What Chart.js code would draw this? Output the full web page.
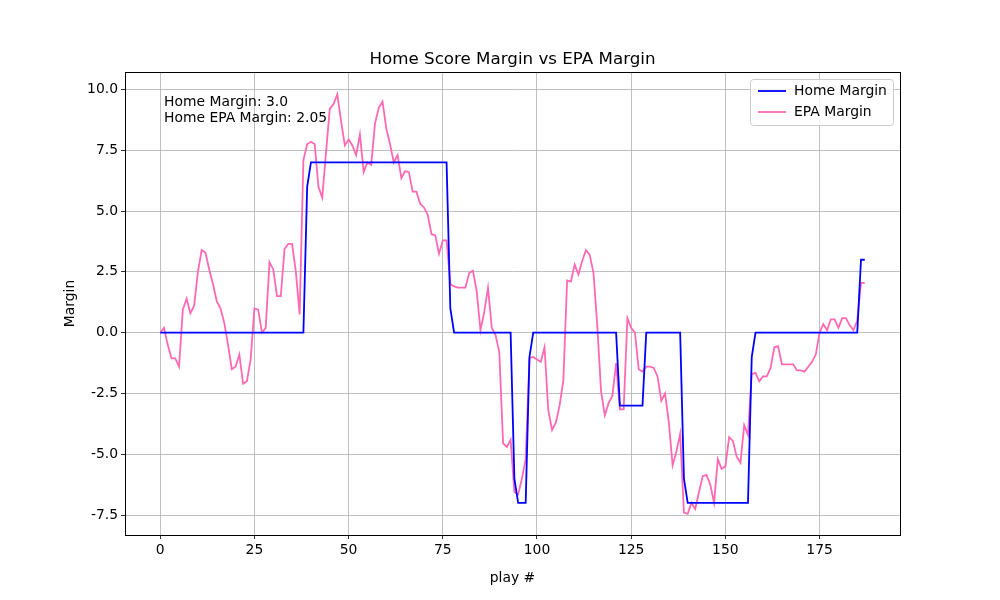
<!DOCTYPE html>
<html><head><meta charset="utf-8">
<script src="https://cdn.jsdelivr.net/npm/chart.js@4"></script>
<style>html,body{margin:0;padding:0;background:#fff}#w{width:1000px;height:600px}</style>
</head><body><div id="w"><canvas id="c" width="1000" height="600"></canvas></div>
<script>
const homeMargin = [
 0,0,0,0,0,0,0,0,0,0, 0,0,0,0,0,0,0,0,0,0, 0,0,0,0,0,0,0,0,0,0, 0,0,0,0,0,0,0,0,0,6,
 7,7,7,7,7,7,7,7,7,7, 7,7,7,7,7,7,7,7,7,7, 7,7,7,7,7,7,7,7,7,7, 7,7,7,7,7,7,7,1,0,0,
 0,0,0,0,0,0,0,0,0,0, 0,0,0,0,-6,-7,-7,-7,-1,0, 0,0,0,0,0,0,0,0,0,0, 0,0,0,0,0,0,0,0,0,0,
 0,0,-3,-3,-3,-3,-3,-3,-3,0, 0,0,0,0,0,0,0,0,0,-6, -7,-7,-7,-7,-7,-7,-7,-7,-7,-7,
 -7,-7,-7,-7,-7,-7,-7,-1,0,0, 0,0,0,0,0,0,0,0,0,0, 0,0,0,0,0,0,0,0,0,0, 0,0,0,0,0,0,3,3];
const epaMargin = [
 0,0.2,-0.5,-1.06,-1.06,-1.4,0.95,1.4,0.8,1.1, 2.5,3.4,3.3,2.6,2.0,1.3,1.0,0.4,-0.5,-1.5,
 -1.4,-0.9,-2.1,-2.0,-1.1,1.0,0.95,0,0.2,2.9, 2.6,1.5,1.5,3.45,3.65,3.65,2.5,0.75,7.1,7.75,
 7.85,7.75,6.0,5.55,7.4,9.2,9.4,9.8,8.7,7.7, 7.95,7.7,7.3,8.15,6.6,7.0,6.9,8.6,9.25,9.5,
 8.4,7.75,7.0,7.3,6.35,6.65,6.6,5.8,5.8,5.3, 5.15,4.85,4.05,4.0,3.25,3.8,3.8,2.0,1.9,1.85,
 1.85,1.85,2.45,2.55,1.7,0.1,0.85,1.85,0.2,-0.1, -0.8,-4.55,-4.7,-4.4,-6.55,-6.65,-6.0,-5.2,-1.05,-1.0,
 -1.1,-1.2,-0.6,-3.2,-4.0,-3.7,-3.0,-1.95,2.15,2.1, 2.8,2.4,2.95,3.4,3.2,2.45,0.3,-2.4,-3.4,-2.9,
 -2.6,-1.25,-3.15,-3.15,0.6,0.2,0.0,-1.5,-1.6,-1.4, -1.4,-1.45,-1.8,-2.8,-2.5,-3.7,-5.45,-4.9,-4.15,-7.4,
 -7.45,-7.0,-7.25,-6.55,-5.9,-5.85,-6.25,-7.0,-5.2,-5.6, -5.5,-4.3,-4.45,-5.1,-5.35,-3.8,-4.2,-1.7,-1.65,-2.0,
 -1.8,-1.8,-1.45,-0.6,-0.55,-1.3,-1.3,-1.3,-1.3,-1.55, -1.55,-1.6,-1.4,-1.2,-0.9,0,0.35,0.1,0.55,0.55,
 0.2,0.6,0.6,0.3,0.1,0.5,2.05,2.05];
const xTicks = [0,25,50,75,100,125,150,175];
const yTicks = [-7.5,-5,-2.5,0,2.5,5,7.5,10];
const seriesNames = ['Home Margin','EPA Margin'];
const colors = ['#0000ff','#ff69b4'];
const titleText = 'Home Score Margin vs EPA Margin';
const noteLines = ['Home Margin: 3.0','Home EPA Margin: 2.05'];

const FONT = '"DejaVu Sans", sans-serif';
const pts = a => a.map((v,i)=>({x:i,y:v}));

const deco = {
  id:'deco',
  afterDraw(ch){
    const c = ch.ctx, a = ch.chartArea;
    c.save();
    c.strokeStyle='#000'; c.lineWidth=1;
    c.strokeRect(a.left+0.5,a.top+0.5,a.right-a.left,a.bottom-a.top);
    c.fillStyle='#000'; c.textAlign='center'; c.textBaseline='alphabetic';
    c.font='16.7px '+FONT;
    c.fillText(titleText,(a.left+a.right)/2,a.top-8);
    c.textAlign='left'; c.font='13.9px '+FONT;
    c.fillText(noteLines[0],164,106); c.fillText(noteLines[1],164,122);
    const lx=750, ly=79, lw=143, lh=46;
    c.fillStyle='rgba(255,255,255,0.8)'; c.strokeStyle='#cccccc';
    c.beginPath(); c.roundRect(lx+0.5,ly+0.5,lw,lh,3); c.fill(); c.stroke();
    seriesNames.forEach((n,k)=>{
      const yy = ly+12+k*21;
      c.strokeStyle=colors[k]; c.lineWidth=1.8;
      c.beginPath(); c.moveTo(lx+8,yy); c.lineTo(lx+36,yy); c.stroke();
      c.fillStyle='#000'; c.textBaseline='middle'; c.fillText(n,lx+44,yy);
    });
    c.restore();
  }
};

new Chart(document.getElementById('c'),{
  type:'line',
  data:{datasets:[
    {label:seriesNames[0],data:pts(homeMargin),borderColor:colors[0],borderWidth:1.8,pointRadius:0,tension:0},
    {label:seriesNames[1],data:pts(epaMargin),borderColor:colors[1],borderWidth:1.8,pointRadius:0,tension:0}
  ]},
  plugins:[deco],
  options:{
    responsive:false, animation:false, devicePixelRatio:1,
    layout:{padding:{top:72,right:100,left:62,bottom:13}},
    plugins:{legend:{display:false},tooltip:{enabled:false}},
    scales:{
      x:{type:'linear',min:-9.35,max:196.35,
        afterBuildTicks:s=>{s.ticks=xTicks.map(v=>({value:v}));},
        afterFit:s=>{s.height=52;},
        grid:{color:'#b0b0b0',lineWidth:0.8,tickLength:4,tickColor:'#000'},
        border:{display:false},
        ticks:{color:'#000',font:{family:FONT,size:13.9},padding:3,maxRotation:0,callback:v=>String(v)},
        title:{display:true,text:'play #',color:'#000',font:{family:FONT,size:13.9},padding:{top:0,bottom:0}}},
      y:{type:'linear',min:-8.32,max:10.72,
        afterBuildTicks:s=>{s.ticks=yTicks.map(v=>({value:v}));},
        afterFit:s=>{s.width=63;},
        grid:{color:'#b0b0b0',lineWidth:0.8,tickLength:4,tickColor:'#000'},
        border:{display:false},
        ticks:{color:'#000',font:{family:FONT,size:13.9},padding:3,callback:v=>Number(v).toFixed(1)},
        title:{display:true,text:'Margin',color:'#000',font:{family:FONT,size:13.9},padding:{top:0,bottom:0}}}
    }
  }
});
</script></body></html>
